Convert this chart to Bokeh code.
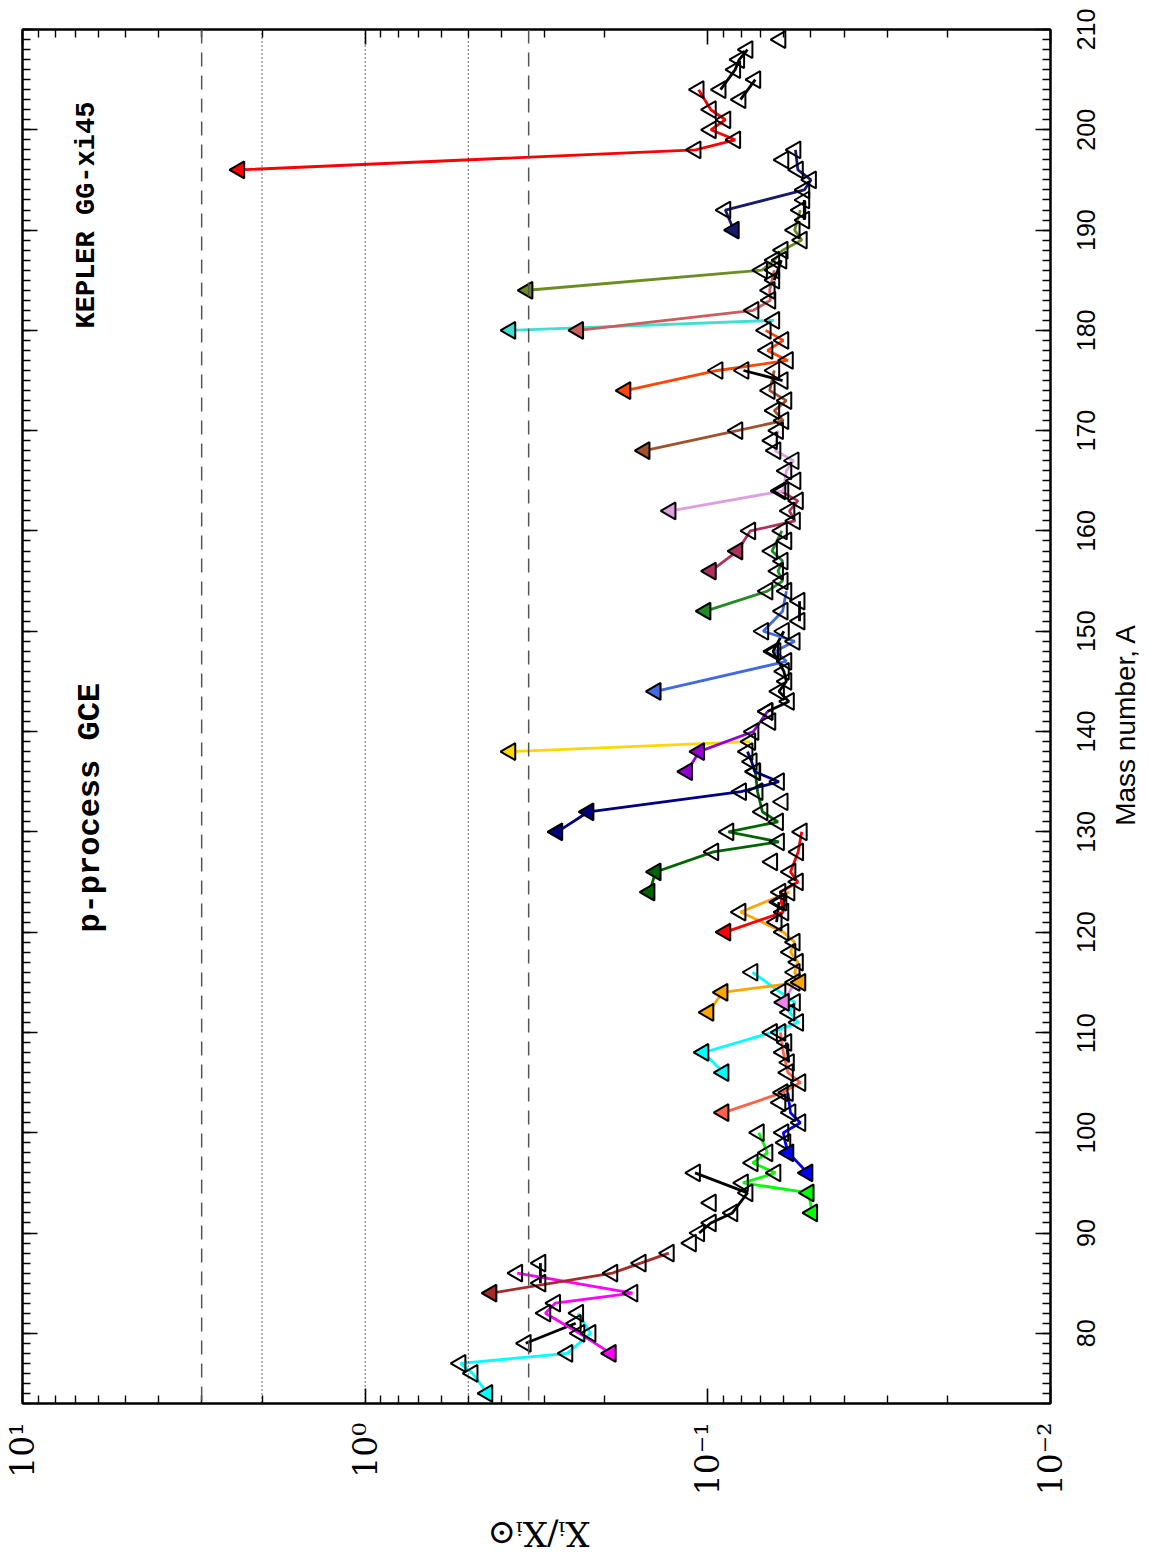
import math
import json
from bokeh.plotting import figure
from bokeh.models import (Range1d, LogAxis, LinearAxis, Span, Label, FixedTicker,
                          SingleIntervalTicker, CustomJSTickFormatter, ColumnDataSource)
from bokeh.embed import file_html
from bokeh.resources import INLINE

# ---------------- data ----------------
element_names = ["Se", "Br", "Kr", "Rb", "Sr", "Y", "Zr", "Nb", "Mo", "Ru", "Rh", "Pd",
                 "Ag", "Cd", "In", "Sn", "Sb", "Te", "I", "Xe", "Cs", "Ba", "La", "Ce",
                 "Pr", "Nd", "Sm", "Eu", "Gd", "Tb", "Dy", "Ho", "Er", "Tm", "Yb", "Lu",
                 "Hf", "Ta", "W", "Re", "Os", "Ir", "Pt", "Au", "Hg", "Tl", "Pb", "Bi"]

element_masses = [
    [74, 76, 77, 78, 80, 82],
    [79, 81],
    [78, 80, 82, 83, 84, 86],
    [85, 87],
    [84, 86, 87, 88],
    [89],
    [90, 91, 92, 94, 96],
    [93],
    [92, 94, 95, 96, 97, 98, 100],
    [96, 98, 99, 100, 101, 102, 104],
    [103],
    [102, 104, 105, 106, 108, 110],
    [107, 109],
    [106, 108, 110, 111, 112, 113, 114, 116],
    [113, 115],
    [112, 114, 115, 116, 117, 118, 119, 120, 122, 124],
    [121, 123],
    [120, 122, 123, 124, 125, 126, 128, 130],
    [127],
    [124, 126, 128, 129, 130, 131, 132, 134, 136],
    [133],
    [130, 132, 134, 135, 136, 137, 138],
    [138, 139],
    [136, 138, 140, 142],
    [141],
    [142, 143, 144, 145, 146, 148, 150],
    [144, 147, 148, 149, 150, 152, 154],
    [151, 153],
    [152, 154, 155, 156, 157, 158, 160],
    [159],
    [156, 158, 160, 161, 162, 163, 164],
    [165],
    [162, 164, 166, 167, 168, 170],
    [169],
    [168, 170, 171, 172, 173, 174, 176],
    [175, 176],
    [174, 176, 177, 178, 179, 180],
    [180, 181],
    [180, 182, 183, 184, 186],
    [185, 187],
    [184, 186, 187, 188, 189, 190, 192],
    [191, 193],
    [190, 192, 194, 195, 196, 198],
    [197],
    [196, 198, 199, 200, 201, 202, 204],
    [203, 205],
    [204, 206, 207, 208],
    [209],
]

element_ratios = [
    [0.44, 0.486, 0.527, 0.257, 0.220, 0.239],
    [0.340, 0.243],
    [0.192, 0.237, 0.298, 0.279, 0.166, 0.36],
    [0.308, 0.308],
    [0.428, 0.19, 0.157, 0.130],
    [0.112],
    [0.106, 0.098, 0.0848, 0.0766, 0.109],
    [0.098],
    [0.0496, 0.0508, 0.079, 0.0635, 0.074, 0.067, 0.071],
    [0.0512, 0.0582, 0.0594, 0.0602, 0.0537, 0.0574, 0.0584],
    [0.0614],
    [0.090, 0.0605, 0.0537, 0.0584, 0.0602, 0.0614],
    [0.058, 0.059],
    [0.090, 0.103, 0.065, 0.0545, 0.0578, 0.0557, 0.0614, 0.0741],
    [0.060, 0.0558],
    [0.0996, 0.0906, 0.0537, 0.0558, 0.0546, 0.0574, 0.0558, 0.0602, 0.0803, 0.0578],
    [0.063, 0.062],
    [0.0889, 0.0602, 0.061, 0.0614, 0.0546, 0.0574, 0.0545, 0.0532],
    [0.0649],
    [0.148, 0.142, 0.0964, 0.062, 0.0871, 0.0624, 0.0693, 0.0716, 0.0727],
    [0.0605],
    [0.275, 0.223, 0.080, 0.062, 0.073, 0.0745, 0.0766],
    [0.377, 0.0752],
    [0.115, 0.106, 0.0736, 0.067],
    [0.0657],
    [0.067, 0.058, 0.062, 0.059, 0.060, 0.0645, 0.060],
    [0.142, 0.059, 0.0635, 0.0558, 0.0689, 0.0605, 0.059],
    [0.054, 0.054],
    [0.1016, 0.067, 0.0605, 0.0624, 0.0605, 0.065, 0.0608],
    [0.059],
    [0.098, 0.082, 0.0752, 0.0557, 0.0578, 0.0546, 0.0614],
    [0.0555],
    [0.1285, 0.0602, 0.059, 0.0562, 0.0635, 0.0624],
    [0.065],
    [0.153, 0.082, 0.0602, 0.064, 0.059, 0.066, 0.064],
    [0.0605, 0.0787],
    [0.174, 0.0937, 0.0584, 0.067, 0.0602, 0.0678],
    [0.377, 0.064],
    [0.239, 0.0736, 0.0657, 0.066, 0.064],
    [0.064, 0.061],
    [0.336, 0.0695, 0.064, 0.0605, 0.0532, 0.0558, 0.0537],
    [0.0523, 0.0523],
    [0.084, 0.0889, 0.0523, 0.050, 0.0546, 0.0555],
    [0.0602],
    [2.33, 0.1086, 0.0832, 0.098, 0.0889, 0.098, 0.1064],
    [0.0803, 0.0727],
    [0.0918, 0.0832, 0.081, 0.0766],
    [0.0614],
]

element_colors = [
    "#00FFFF", "black", "#FF00FF", "black", "#A52A2A", "black", "black", "black",
    "#00FF00", "#0000FF", "black", "#FF6347", "black", "#00FFFF", "#EE82EE", "#FFA500",
    "black", "#FF0000", "black", "#006400", "black", "#000080", "#FFD700", "#9400D3",
    "black", "black", "#4169E1", "black", "#228B22", "black", "#B03060", "black",
    "#DDA0DD", "black", "#A0522D", "black", "#FF4500", "#40E0D0", "#CD5C5C", "black",
    "#6B8E23", "black", "#191970", "black", "#FF0000", "black", "black", "black",
]

# p-nuclei of each element (drawn as filled triangles)
element_p_nuclei = [
    [74], [], [78], [], [84], [], [], [], [92, 94], [96, 98], [], [102], [], [106, 108],
    [113], [112, 114, 115], [], [120], [], [124, 126], [], [130, 132], [138], [136, 138],
    [], [], [144], [], [152], [], [156, 158], [], [162], [], [168], [], [174], [180], [180],
    [], [184], [], [190], [], [196], [], [], [],
]

dashed_levels = [3.0, 1.0 / 3.0]
dotted_levels = [2.0, 1.0, 0.5]
log_major_ticks = [0.01, 0.1, 1.0, 10.0]
log_tick_labels = {0.01: "10\u207B\u00B2", 0.1: "10\u207B\u00B9", 1.0: "10\u2070", 10.0: "10\u00B9"}
mass_tick_values = [80, 90, 100, 110, 120, 130, 140, 150, 160, 170, 180, 190, 200, 210]
mass_tick_labels = ["80", "90", "100", "110", "120", "130", "140", "150", "160",
                    "170", "180", "190", "200", "210"]
x_title = "X\u1D62/X\u1D62\u2299"
y_title = "Mass number, A"

# ---------------- figure ----------------
FRAME_H = 1374
Y0, Y1 = 73, 210
px_per_unit = FRAME_H / (Y1 - Y0)

p = figure(frame_width=1028, frame_height=FRAME_H,
           x_axis_type="log", x_range=Range1d(10, 0.01), y_range=Range1d(Y0, Y1),
           y_axis_location="right", output_backend="svg", toolbar_location=None,
           min_border_left=22, min_border_top=29, min_border_right=98, min_border_bottom=150,
           background_fill_color="white", border_fill_color="white")
p.grid.visible = False
p.outline_line_color = "black"
p.outline_line_width = 2

minor_log = [m * 10.0 ** k for k in (-2, -1, 0) for m in range(2, 10)]
blank_fmt = CustomJSTickFormatter(code="return ' ';")


def style_axis(ax, major_in, minor_in):
    ax.major_tick_in = major_in
    ax.major_tick_out = 0
    ax.minor_tick_in = minor_in
    ax.minor_tick_out = 0
    ax.axis_line_width = 2
    ax.axis_line_color = "black"
    ax.major_tick_line_width = 1.6
    ax.minor_tick_line_width = 1.4
    ax.major_tick_line_color = "black"
    ax.minor_tick_line_color = "black"


def text_axis(axis_cls, locs, texts, orientation, font, size, standoff):
    # an axis without line or ticks: only carries labels at the given positions
    fmt = CustomJSTickFormatter(args=dict(pos=list(locs), labels=list(texts)), code="""
        let best = 0;
        for (let i = 0; i < pos.length; i++) {
            if (Math.abs(pos[i] - tick) < Math.abs(pos[best] - tick)) best = i;
        }
        return labels[best];
    """)
    return axis_cls(ticker=FixedTicker(ticks=list(locs), minor_ticks=[]), formatter=fmt,
                    major_label_orientation=orientation,
                    major_label_text_font=font, major_label_text_font_size=size,
                    major_label_text_color="black", major_label_standoff=standoff,
                    axis_line_color=None, major_tick_line_color=None,
                    minor_tick_line_color=None, major_tick_in=0, major_tick_out=0,
                    minor_tick_in=0, minor_tick_out=0)


xa = p.xaxis[0]
xa.ticker = FixedTicker(ticks=log_major_ticks, minor_ticks=minor_log)
xa.major_label_overrides = log_tick_labels
xa.major_label_orientation = math.pi / 2
xa.major_label_text_font = "DejaVu Serif"
xa.major_label_text_font_size = "33px"
xa.major_label_text_color = "black"
xa.major_label_standoff = 19
style_axis(xa, 15, 8)

# right axis: ticks only; its labels are drawn centred on the ticks by a label axis
ya = p.yaxis[0]
ya.ticker = SingleIntervalTicker(interval=10, num_minor_ticks=10)
ya.formatter = blank_fmt
ya.major_label_text_font_size = "2px"
ya.major_label_standoff = 0
style_axis(ya, 15, 8)

label_px = 25
half_units = [len(t) * 0.556 * label_px / 2.0 / px_per_unit for t in mass_tick_labels]
mass_label_pos = [v - h for v, h in zip(mass_tick_values, half_units)]
p.add_layout(text_axis(LinearAxis, mass_label_pos, mass_tick_labels, math.pi / 2,
                       "Liberation Sans", "%dpx" % label_px, 32), "right")

# titles: upside down below the plot, reading upward at the right
p.add_layout(text_axis(LogAxis, [0.4396], [x_title], math.pi, "DejaVu Serif", "34px", 35), "below")
p.add_layout(text_axis(LinearAxis, [130.6], [y_title], math.pi / 2, "Liberation Sans", "28px", 18), "right")

top_ax = LogAxis(ticker=FixedTicker(ticks=log_major_ticks, minor_ticks=minor_log),
                 formatter=blank_fmt, major_label_text_font_size="2px",
                 major_label_standoff=0)
style_axis(top_ax, 15, 8)
p.add_layout(top_ax, "above")

left_ax = LinearAxis(ticker=SingleIntervalTicker(interval=10, num_minor_ticks=10),
                     formatter=blank_fmt, major_label_text_font_size="2px",
                     major_label_standoff=0)
style_axis(left_ax, 15, 8)
p.add_layout(left_ax, "left")

for lev in dashed_levels:
    p.add_layout(Span(location=lev, dimension="height", line_color="#555555",
                      line_dash="14 9", line_width=1.5))
for lev in dotted_levels:
    p.add_layout(Span(location=lev, dimension="height", line_color="black",
                      line_dash="1 3", line_width=1.2))

# element lines
for masses, ratios, col in zip(element_masses, element_ratios, element_colors):
    if len(masses) > 1:
        p.line(ratios, masses, line_color=col, line_width=2.8)

# open triangles (non p-nuclei) and filled triangles (p-nuclei)
ox, oy = [], []
fx, fy, fc = [], [], []
for masses, ratios, col, pn in zip(element_masses, element_ratios, element_colors, element_p_nuclei):
    for a, r in zip(masses, ratios):
        if a in pn:
            fx.append(r); fy.append(a); fc.append(col)
        else:
            ox.append(r); oy.append(a)

p.scatter(ox, oy, marker="triangle", size=17, angle=math.pi / 2,
          fill_color=None, line_color="black", line_width=2)
p.scatter(x="x", y="y", source=ColumnDataSource(dict(x=fx, y=fy, c=fc)),
          marker="triangle", size=17, angle=math.pi / 2,
          fill_color="c", line_color="black", line_width=2)

# texts inside the frame
p.add_layout(Label(x=6.33, y=132.4, text="p-process GCE", angle=math.pi / 2,
                   text_font="Liberation Mono", text_font_style="bold",
                   text_font_size="32px", text_align="center", text_baseline="middle",
                   text_color="black"))
p.add_layout(Label(x=6.5, y=191.5, text="KEPLER GG-xi45", angle=math.pi / 2,
                   text_font="Liberation Mono", text_font_style="bold",
                   text_font_size="27px", text_align="center", text_baseline="middle",
                   text_color="black"))

open("out.html", "w").write(file_html(p, INLINE))
